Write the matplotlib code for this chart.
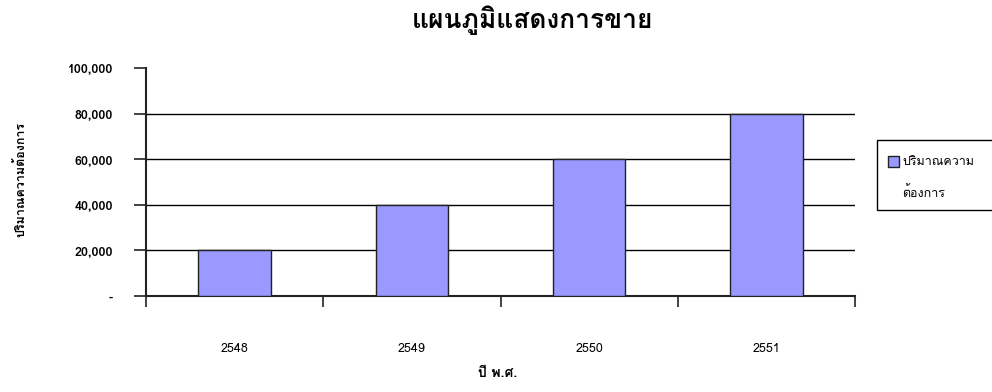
import matplotlib
matplotlib.use('Agg')
import matplotlib.pyplot as plt
from matplotlib import font_manager
from matplotlib.ft2font import FT2Font
from matplotlib.patches import Rectangle
from matplotlib.ticker import FixedLocator, FuncFormatter

years = ['2548', '2549', '2550', '2551']
demand = [20000, 40000, 60000, 80000]
series_lines = ['ปริมาณความ', 'ต้องการ']
title = 'แผนภูมิแสดงการขาย'
x_label = 'ปี พ.ศ.'
y_label = 'ปริมาณความต้องการ'
y_ticks = [0, 20000, 40000, 60000, 80000, 100000]


# pick an installed face that actually has Thai glyphs
def thai_family():
    for f in font_manager.fontManager.ttflist:
        try:
            cmap = FT2Font(f.fname).get_charmap()
        except Exception:
            continue
        if 0x0E1B in cmap and 0x0E34 in cmap:
            return f.name
    return 'DejaVu Sans'


thai = thai_family()
plt.rcParams['font.family'] = [thai, 'DejaVu Sans']

fig = plt.figure(figsize=(9.92, 3.92), dpi=100)
ax = fig.add_axes([0.1472, 0.2449, 0.7147, 0.5816])

x = list(range(len(years)))
bars = ax.bar([i + 0.5 for i in x], demand, width=0.41, color='#9999ff',
              edgecolor='#222222', linewidth=1.0, zorder=3)

ax.set_xlim(0, len(years))
ax.set_ylim(y_ticks[0], y_ticks[-1])

# category boundaries carry the tick marks, labels sit in between
ax.xaxis.set_major_locator(FixedLocator(list(range(len(years) + 1))))
ax.xaxis.set_major_formatter(FuncFormatter(lambda v, p: ''))
ax.xaxis.set_minor_locator(FixedLocator([i + 0.5 for i in x]))
ax.xaxis.set_minor_formatter(FuncFormatter(lambda v, p: years[int(v)]))
ax.tick_params(axis='x', which='major', length=8, width=1.2, color='#222222')
ax.tick_params(axis='x', which='minor', length=0, pad=34, labelsize=9)

ax.yaxis.set_major_locator(FixedLocator(y_ticks))
ax.yaxis.set_major_formatter(
    FuncFormatter(lambda v, p: '-' if v == 0 else f'{int(v):,}'))
ax.tick_params(axis='y', length=9, width=1.2, color='#222222', pad=15,
               labelsize=9)
for lab in ax.get_yticklabels():
    lab.set_fontweight('bold')

for y in y_ticks[1:-1]:
    ax.axhline(y, color='black', linewidth=1.0, zorder=1)

for side in ['top', 'right']:
    ax.spines[side].set_visible(False)
for side in ['left', 'bottom']:
    ax.spines[side].set_linewidth(1.5)
    ax.spines[side].set_color('#222222')

fig.text(0.537, 0.948, title, ha='center', va='center', fontsize=19,
         fontweight='bold')
fig.text(0.502, 0.045, x_label, ha='center', va='center', fontsize=10,
         fontweight='bold')
fig.text(0.021, 0.541, y_label, ha='center', va='center', rotation=90,
         fontsize=9, fontweight='bold')

# legend box runs off the right edge of the figure
W, H = fig.get_figwidth() * fig.dpi, fig.get_figheight() * fig.dpi
fig.patches.append(Rectangle((877 / W, 1 - 210 / H), 140 / W, 70 / H,
                             transform=fig.transFigure, facecolor='white',
                             edgecolor='black', linewidth=1.0))
fig.patches.append(Rectangle((888 / W, 1 - 167 / H), 11 / W, 11 / H,
                             transform=fig.transFigure,
                             facecolor=bars[0].get_facecolor(),
                             edgecolor='#222222', linewidth=1.0))
fig.text(902 / W, 1 - 162 / H, series_lines[0], ha='left', va='center',
         fontsize=9)
fig.text(902 / W, 1 - 193 / H, series_lines[1], ha='left', va='center',
         fontsize=9)

plt.savefig('out.png', dpi=100)
plt.close()
